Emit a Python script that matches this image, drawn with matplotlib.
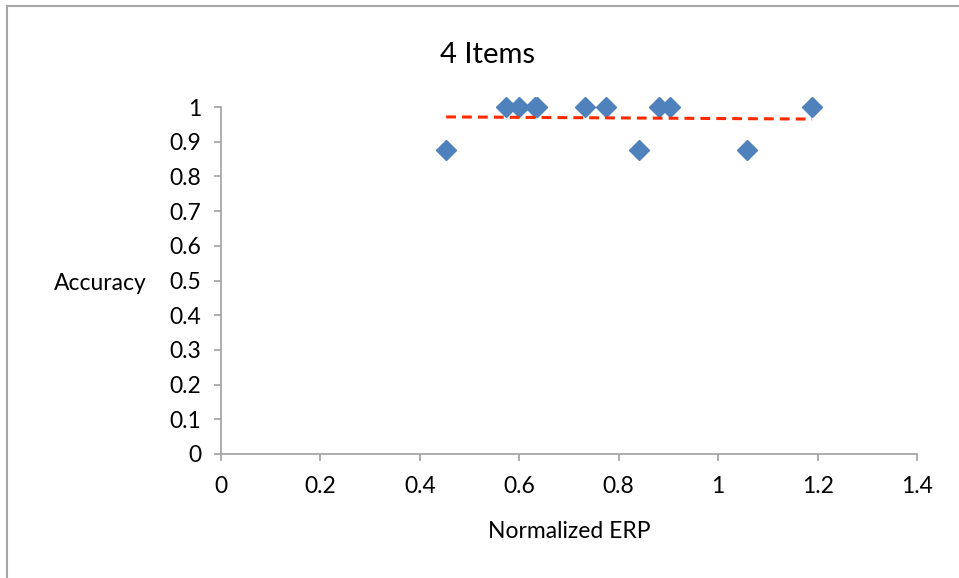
import matplotlib.pyplot as plt
import numpy as np
from matplotlib.patches import Rectangle

# values
erp = [0.453, 0.573, 0.600, 0.632, 0.635, 0.732, 0.775, 0.841, 0.881, 0.903, 1.058, 1.189]
accuracy = [0.875, 1, 1, 1, 1, 1, 1, 0.875, 1, 1, 0.875, 1]

x_ticks = [0, 0.2, 0.4, 0.6, 0.8, 1, 1.2, 1.4]
x_tick_labels = ["0", "0.2", "0.4", "0.6", "0.8", "1", "1.2", "1.4"]
y_ticks = [0, 0.1, 0.2, 0.3, 0.4, 0.5, 0.6, 0.7, 0.8, 0.9, 1]
y_tick_labels = ["0", "0.1", "0.2", "0.3", "0.4", "0.5", "0.6", "0.7", "0.8", "0.9", "1"]

plt.rcParams["font.family"] = ["Lato", "DejaVu Sans"]

W, H = 959, 578
fig = plt.figure(figsize=(W / 100, H / 100), dpi=100)
ax = fig.add_axes([221 / W, 1 - 454 / H, (917 - 221) / W, (454 - 107) / H])

# chart frame (left and top edges visible)
fig.patches.append(Rectangle((7 / W, -0.1), 1.2, 1 - 6 / H + 0.1,
                             transform=fig.transFigure, fill=False,
                             edgecolor="#a6a6a6", linewidth=1.5))

x = np.asarray(erp)
y = np.asarray(accuracy)
ax.plot(x, y, linestyle="none", marker="D", markersize=10,
        color="#4f81bd", markeredgecolor="#4f81bd", clip_on=False, zorder=3)

# linear trendline
slope, intercept = np.polyfit(x, y, 1)
xs = np.array([x.min(), x.max()])
ax.plot(xs, slope * xs + intercept, color="#ff2a00", linewidth=2.2,
        dashes=(3.2, 2), clip_on=False, zorder=4)

ax.set_xlim(0, 1.4)
ax.set_ylim(0, 1)
ax.set_xticks(x_ticks)
ax.set_xticklabels(x_tick_labels)
ax.set_yticks(y_ticks)
ax.set_yticklabels(y_tick_labels)

for side in ("top", "right"):
    ax.spines[side].set_visible(False)
for side in ("left", "bottom"):
    ax.spines[side].set_color("#a0a0a0")
    ax.spines[side].set_linewidth(1.2)

ax.tick_params(axis="both", direction="out", length=5, width=1.2,
               color="#a0a0a0", labelsize=16.5, labelcolor="black")
ax.tick_params(axis="x", pad=11)
ax.tick_params(axis="y", pad=9)

fig.text(487 / W, 1 - 55 / H, "4 Items", fontsize=21, ha="center", va="center")
fig.text(569 / W, 1 - 531 / H, "Normalized ERP", fontsize=16.5, ha="center", va="center")
fig.text(147 / W, 1 - 283 / H, "Accuracy", fontsize=16.5, ha="right", va="center")

fig.savefig("out.png", dpi=100)
